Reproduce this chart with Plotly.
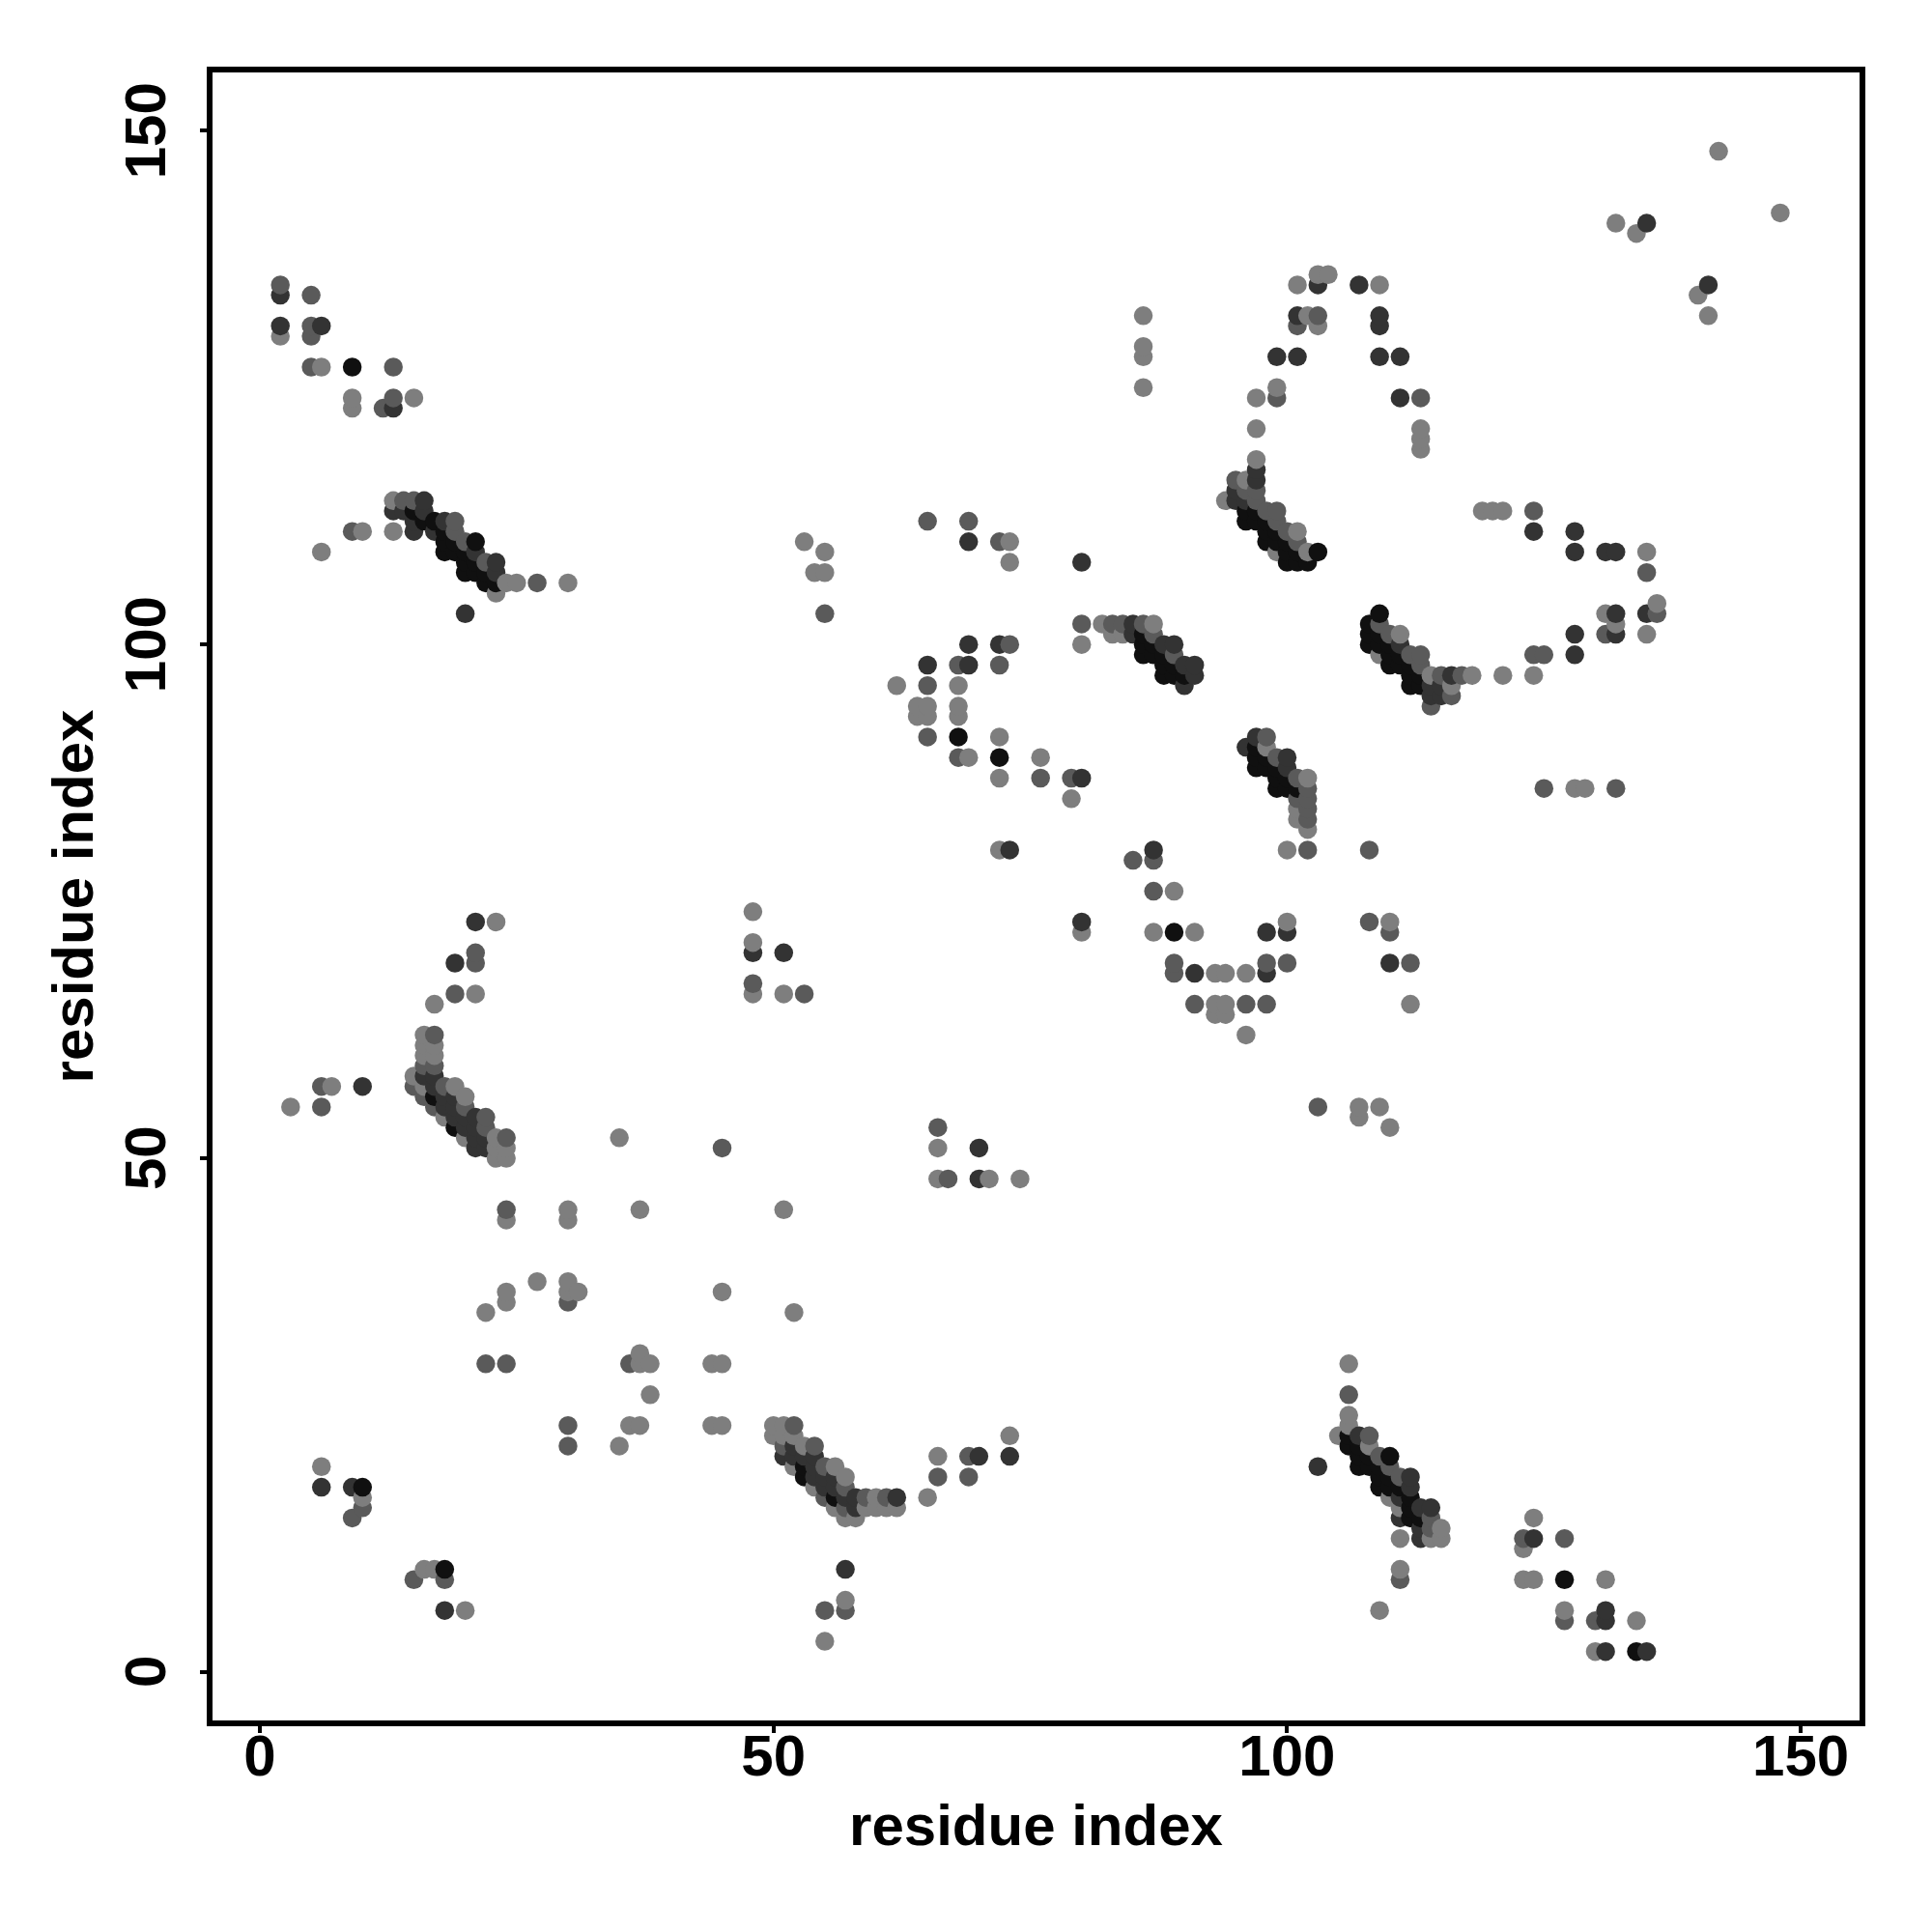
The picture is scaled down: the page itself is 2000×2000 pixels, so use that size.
import plotly.graph_objects as go

# contacts (residue i, residue j) grouped by grey shade
light = [(2,130),(6,127),(9,124),(9,123),(15,124),(13,111),(10,111),(6,109),(13,114),
(23,105),(24,106),(25,106),(30,106),(53,110),(55,109),(55,107),(54,107),(73,110),(73,108),
(80,100),(62,96),(68,96),(64,94),(65,94),(68,94),(64,93),(65,93),(68,93),(72,91),(69,89),(76,89),(72,87),(79,85),
(82,102),(87,102),(83,101),(84,101),(72,80),(100,80),(89,76),(80,72),(87,72),(91,72),(100,73),(110,73),
(93,68),(94,68),(96,68),(93,65),(94,65),(93,64),(94,64),(96,62),(112,65),(107,55),(107,54),(109,55),(110,53),
(86,132),(86,129),(86,128),(86,125),(101,135),(103,136),(104,136),(102,132),(103,131),(109,135),(97,124),(99,125),(97,121),
(113,121),(113,120),(113,119),(97,118),(96,116),(94,114),(101,111),(99,109),(102,109),(109,99),(111,101),(114,97),(118,97),(121,97),
(116,96),(119,113),(120,113),(121,113),(135,109),(131,103),(136,104),(132,102),(135,101),(124,97),(129,86),(128,86),
(102,87),(101,84),(101,83),(102,82),(98,90),
(142,148),(148,142),(132,141),(134,140),(140,134),(141,132),
(17,65),(21,66),(23,73),(3,55),(7,57),(16,62),(16,61),(17,61),(16,60),(17,60),(15,58),(19,57),(16,57),(20,56),(18,54),(20,52),(23,52),(23,51),(24,51),(23,50),(24,50),
(35,52),(24,44),(30,45),(30,44),(37,45),(51,45),(27,38),(30,38),(30,37),(31,37),(24,37),(24,36),(22,35),(45,37),(52,35),
(37,31),(37,30),(38,30),(38,27),(44,30),(45,30),(35,22),(36,24),(37,24),(44,24),(45,24),
(48,74),(48,71),(48,66),(51,66),(66,51),(66,48),(71,48),(74,48),
(6,20),(10,17),(16,10),(17,10),(20,6),
(50,24),(51,24),(50,23),(51,23),(52,23),(53,22),(52,20),(56,20),(57,19),(54,18),(56,16),(59,16),(60,16),(61,16),(62,16),(60,17),(57,15),(58,15),
(65,17),(66,21),(73,23),(57,7),(55,3),
(106,30),(106,25),(106,24),(105,23),(108,22),(110,17),(111,16),(115,14),(114,13),(115,13),(111,13),(111,10),(109,6),
(124,15),(123,12),(123,9),(124,9),(131,9),(127,6),(134,5),(130,2)]
mid = [(2,135),(5,134),(5,131),(5,130),(5,127),(13,127),(12,123),(13,124),(9,111),(14,114),(15,114),(19,112),(19,111),(20,110),(22,108),
(27,106),(55,103),(65,112),(69,112),(72,110),(80,102),(73,100),(68,98),(72,98),(65,96),(65,91),(68,89),(76,87),(79,87),
(83,102),(84,102),(86,102),(87,101),(89,99),(98,91),(99,89),(101,87),(101,85),(102,86),(102,85),(102,84),(102,83),(85,79),(87,79),(102,80),(108,80),
(87,76),(108,73),(110,72),(89,69),(98,69),(100,69),(112,69),(89,68),(91,65),(96,65),(98,65),(103,55),
(101,131),(103,132),(99,124),(113,124),(97,115),(97,114),(95,116),(96,115),(98,113),(99,113),(99,112),(100,111),(101,110),
(109,102),(110,101),(112,99),(113,99),(113,98),(115,97),(117,97),(116,95),(114,94),
(124,113),(135,107),(136,103),(131,101),(124,99),(125,99),(125,86),(132,86),
(19,66),(21,69),(21,70),(6,57),(6,55),(17,62),(16,59),(17,59),(15,57),(18,57),(16,56),(17,55),(20,55),(22,54),(22,53),(24,52),
(45,51),(24,45),(30,36),(22,30),(24,30),(36,30),(30,24),(30,22),(48,67),(53,66),(66,53),(67,48),
(9,15),(15,9),(18,9),(10,16),
(52,24),(54,22),(51,22),(55,20),(57,18),(55,17),(59,17),(61,17),(57,16),
(66,19),(69,21),(69,19),(57,6),(55,6),
(106,27),(108,23),(109,21),(110,20),(111,19),(114,15),(114,14),(111,9),
(123,13),(127,13),(127,5),(130,5)]
dark = [(2,134),(2,131),(6,131),(13,123),(13,113),(14,113),(16,114),(16,113),(15,112),(15,111),(17,111),(18,112),(21,109),(23,108),(23,107),(20,103),
(69,110),(80,108),(69,100),(72,100),(65,98),(69,98),(80,87),(85,102),(85,101),(88,100),(89,100),(90,98),(91,98),(91,97),(90,96),
(96,90),(97,91),(100,89),(100,88),(87,80),(73,80),(80,73),(98,72),(100,72),(110,69),(91,68),(98,68),
(103,135),(107,135),(101,132),(109,132),(109,131),(99,128),(101,128),(109,128),(111,128),(111,124),
(97,117),(97,116),(95,115),(95,114),(96,114),(111,100),(116,97),(114,96),(115,96),(114,95),(115,95),
(124,111),(128,111),(128,109),(131,109),(132,109),(132,103),(135,103),(132,101),(128,101),(128,99),
(135,141),(141,135),(19,69),(21,73),(10,57),
(16,58),(17,58),(17,57),(18,56),(19,56),(18,55),(19,55),(19,54),(20,54),(21,54),(20,53),(21,53),(21,52),(22,52),(21,51),(22,51),
(48,70),(51,70),(70,51),(70,48),(6,18),(9,18),(18,6),
(52,22),(51,21),(52,21),(53,21),(54,21),(54,20),(54,19),(55,19),(56,19),(55,18),(56,18),(57,17),(58,17),(62,17),(58,16),
(70,21),(73,21),(57,10),
(107,23),(112,19),(112,18),(111,17),(113,16),(114,16),(111,15),(113,14),(113,13),(103,20),
(124,13),(131,6),(131,5),(131,2),(135,2)]
black = [(9,127),(15,113),(16,112),(17,112),(18,111),(18,110),(19,110),(21,110),(18,109),(19,109),(20,109),(20,108),(21,108),(20,107),(21,107),(22,107),(22,106),(23,106),
(68,91),(72,89),(86,101),(86,100),(86,99),(87,100),(87,99),(88,99),(88,98),(88,97),(89,98),(89,97),(90,97),
(97,90),(97,89),(97,88),(98,89),(98,88),(99,88),(99,87),(99,86),(100,87),(100,86),(101,86),
(89,72),(96,113),(96,112),(97,113),(97,112),(98,112),(98,111),(98,110),(99,111),(99,110),(100,110),(100,109),(101,109),(103,109),(100,108),(101,108),(102,108),
(109,103),(108,102),(108,101),(108,100),(109,101),(109,100),(110,100),(110,99),(110,98),(111,99),(111,98),(112,98),(112,97),(112,96),(113,97),(113,96),
(17,56),(19,53),(10,18),(18,10),
(53,20),(53,19),(56,17),
(106,23),(106,22),(107,22),(107,21),(107,20),(108,21),(108,20),(110,21),(109,20),(109,19),(109,18),(110,19),(110,18),(111,18),(112,17),(112,16),(112,15),(113,15),
(127,9),(134,2)]

light_grey = "#7e7e7e"
mid_grey = "#5a5a5a"
dark_grey = "#333333"
black_grey = "#101010"
tick_values = [0, 50, 100, 150]
axis_label = "residue index"

shaded = [(p, light_grey) for p in light] + [(p, mid_grey) for p in mid] + \
         [(p, dark_grey) for p in dark] + [(p, black_grey) for p in black]
shaded.sort(key=lambda item: item[0])
res_i = [p[0] for p, _ in shaded]
res_j = [p[1] for p, _ in shaded]
colors = [c for _, c in shaded]

fig = go.Figure(go.Scatter(x=res_i, y=res_j, mode="markers",
                           marker=dict(size=19.5, color=colors, line=dict(width=0)),
                           hoverinfo="skip"))
FONT = dict(family="Liberation Sans", size=60, color="black", weight="bold")
axis = dict(tickvals=tick_values, ticks="outside", ticklen=7, tickwidth=4, tickcolor="black",
            showgrid=False, zeroline=False, showline=True, linewidth=6, linecolor="black",
            mirror=True, tickfont=FONT, title=dict(text=axis_label, font=FONT))
fig.update_layout(width=2000, height=2000, autosize=False, showlegend=False,
                  paper_bgcolor="white", plot_bgcolor="white",
                  margin=dict(l=211.5, r=82.7, t=66.7, b=227))
fig.update_xaxes(range=[-4.6, 155.72], ticklabelstandoff=-28, **axis)
fig.update_yaxes(range=[-4.7, 155.67], showticklabels=False, **axis)
fig.layout.xaxis.title.standoff = 20
fig.layout.yaxis.title.standoff = 93
# rotated y tick labels, centred on their ticks
for v in tick_values:
    fig.add_annotation(text=str(v), xref="paper", yref="y", x=0, y=v, xshift=-70,
                       xanchor="center", yanchor="middle", textangle=-90,
                       showarrow=False, font=FONT)
fig.write_html("out.html")
